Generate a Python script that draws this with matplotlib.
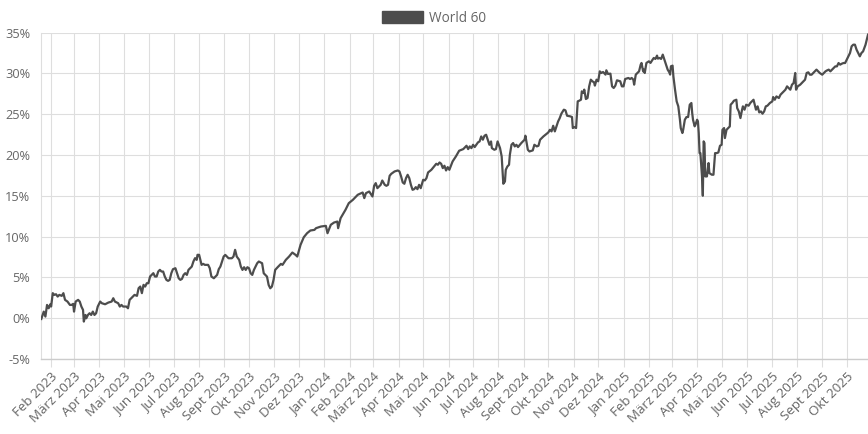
import matplotlib
matplotlib.use("Agg")
import matplotlib.pyplot as plt
import matplotlib.dates as mdates
from matplotlib.patches import Patch
from matplotlib.ticker import FuncFormatter, MultipleLocator
import pandas as pd

# Wertentwicklung "World 60" in %, Tage seit Start
start_date = "2023-01-20"
series_name = "World 60"
month_names = ["Jan", "Feb", "März", "Apr", "Mai", "Jun",
               "Jul", "Aug", "Sept", "Okt", "Nov", "Dez"]

days_2023 = [0, 3, 5, 7, 9, 11, 12, 14, 16, 18, 20, 22, 25, 27, 29, 32, 35, 37, 39, 40,
             42, 45, 47, 49, 51, 52, 54, 55, 57, 59, 61, 63, 65, 67, 69, 72, 74, 78, 82, 86,
             88, 90, 94, 96, 98, 100, 104, 106, 108, 110, 114, 117, 119, 121, 123, 125, 127,
             129, 131, 133, 135, 137, 139, 141, 143, 145, 147, 149, 151, 153, 155, 157, 159,
             161, 164, 166, 168, 170, 172, 174, 176, 178, 180, 182, 184, 186, 188, 190, 191,
             193, 195, 196, 198, 200, 204, 206, 208, 211, 213, 215, 217,
             219, 221, 223, 225, 227, 229, 233, 235, 237, 239, 242, 244, 246, 248, 250, 252,
             254, 256, 258, 260, 262, 264, 266, 270, 272, 274, 276, 278, 280, 282, 284, 286,
             289, 293, 295, 299, 303, 307, 311, 313, 317, 321, 325, 329, 334, 336, 342, 348]
vals_2023 = [-0.09, 0.81, 0.20, 1.63, 1.22, 1.71, 1.43, 3.07, 2.86, 2.94, 2.65, 2.86, 2.74,
             3.07, 2.25, 2.04, 1.63, 1.63, 1.76, 0.81, 2.04, 2.25, 2.04, 1.43, 1.02, -0.41,
             0.40, -0.01, 0.40, 0.61, 0.40, 0.81, 0.40, 0.61, 1.43, 2.04, 1.84, 1.71, 1.92,
             2.04, 2.45, 2.04, 1.84, 1.43, 1.63, 1.43, 1.43, 1.22, 2.25, 2.45, 2.86, 2.74,
             3.68, 3.88, 3.07, 4.09, 3.88, 4.29, 4.29, 5.11, 5.31, 5.52, 5.11, 5.11, 5.72,
             5.93, 5.72, 5.72, 5.11, 4.70, 4.58, 4.70, 5.52, 6.01, 6.13, 5.52, 4.90, 4.70,
             4.82, 5.31, 5.52, 5.31, 5.93, 6.13, 6.33, 6.95, 7.36, 7.15, 7.77, 7.77, 6.95,
             6.54, 6.66, 6.54, 6.54, 6.13, 5.11, 4.90, 5.11, 5.31, 6.01,
             6.33, 6.95, 7.56, 7.76, 7.56, 7.35, 7.35, 7.56, 8.38, 7.56, 7.15, 6.33, 5.92,
             6.25, 5.92, 6.25, 6.13, 5.51, 5.31, 5.92, 6.33, 6.74, 6.95, 6.74, 5.51, 5.31,
             5.10, 4.08, 3.67, 3.88, 4.70, 5.92, 6.25, 6.66, 6.54, 7.15, 7.56, 8.05, 7.76,
             7.56, 8.99, 9.93, 10.42, 10.75, 10.83, 11.04, 11.24, 11.32]

days_2024 = [350, 354, 358, 362, 363, 366, 372, 376, 381, 387, 393, 395, 397, 401, 405, 407,
             409, 411, 415, 417, 420, 422, 424, 426, 428, 432, 436, 438, 440, 442, 444, 446,
             448, 450, 452, 454, 456, 458, 460, 462, 464, 467, 469, 471, 473, 477, 481, 483,
             485, 487, 489, 491, 493, 495, 497, 499, 501, 503, 507, 511, 516, 520, 522, 524,
             526, 528, 530, 534, 536, 538, 540, 542, 544, 546, 548, 550, 551, 554, 556, 558,
             561, 563, 564, 565, 567, 568, 570, 572, 573, 575, 577, 579, 581, 583, 587, 591,
             592, 594, 595, 597, 601, 603, 606, 608, 610, 614, 618, 620, 622, 624, 626, 628,
             630, 632, 634, 636, 639, 641, 643, 647, 649, 650, 652, 654, 656, 658, 660, 661,
             663, 664, 666, 668, 670, 672, 674, 676, 677, 679, 681, 683, 685, 687, 690, 691,
             693, 696, 698, 700, 702, 704, 708, 710]
vals_2024 = [10.42, 11.45, 11.73, 11.85, 11.04, 12.26, 13.29, 14.10, 14.51, 15.13, 15.41,
             14.72, 15.33, 15.53, 14.92, 16.23, 16.56, 15.94, 16.35, 16.88, 16.35, 16.23,
             16.35, 17.46, 17.70, 17.99, 18.11, 17.99, 17.38, 16.64, 16.48, 17.17, 17.58,
             17.17, 16.35, 15.74, 15.82, 16.07, 15.82, 16.35, 15.94, 16.97, 16.89, 17.17,
             17.87, 18.19, 18.69, 18.93, 18.81, 19.09, 18.93, 18.40, 18.69, 18.11, 18.52,
             18.19, 18.69, 19.22, 19.83, 20.53, 20.73, 21.14, 20.73, 21.06, 20.85, 21.26,
             20.98, 21.55, 21.67, 22.28, 21.88, 22.37, 22.49, 21.88, 21.26, 21.67, 20.85,
             20.65, 20.73, 21.67, 20.85, 19.83, 18.19, 16.48, 16.76, 18.19, 18.60, 18.81,
             20.03, 21.26, 21.47, 21.06, 21.26, 20.98, 21.47, 21.88, 22.37, 21.26, 20.65,
             20.44, 20.57, 21.26, 21.06, 21.14, 21.88, 22.28, 22.61, 22.77, 23.10, 22.90,
             23.59, 22.90, 23.51, 24.12, 24.53, 25.07, 25.56, 25.48, 24.82, 24.74, 24.66,
             23.31, 23.43, 23.31, 26.58, 26.67, 26.79, 27.81, 27.61, 28.02, 26.87, 26.99,
             28.42, 29.24, 29.04, 28.91, 28.51, 29.24, 29.04, 30.26, 30.06, 30.18, 29.86,
             30.39, 29.94, 29.98, 28.42, 28.22, 28.51, 29.16, 29.04, 28.42]

days_2025 = [712, 714, 718, 720, 722, 724, 725, 727, 729, 731, 733, 734, 736, 737, 738, 740,
             743, 745, 747, 749, 751, 753, 754, 756, 758, 760, 762, 764, 766, 768, 769, 770,
             772, 773, 775, 777, 779, 781, 782, 784, 785, 787, 789, 791, 793, 795, 796, 797,
             799, 800, 802, 803, 804, 805, 806, 808, 809, 810, 811, 812, 814, 816, 817, 820,
             822, 824, 826, 828, 830, 832, 833, 835, 836, 838, 840, 842, 843, 845, 847, 850,
             851, 853, 855, 857, 858, 860, 862, 865, 867, 869, 871, 872, 874, 876, 878, 880,
             882, 884, 886, 888, 891, 894, 895, 897, 899, 902, 904, 906, 908, 910, 912, 914,
             916, 918, 920, 922, 923, 925, 928, 930, 934, 936, 938, 940, 942, 944, 946, 948,
             950, 952, 955, 957, 959, 961, 963, 965, 967, 969, 971, 973, 975, 977, 979, 981,
             983, 985, 987, 989, 991, 993, 995, 997, 999, 1001, 1003, 1005, 1008, 1011]
vals_2025 = [28.42, 29.32, 29.45, 29.32, 29.45, 29.24, 28.63, 29.86, 30.06, 30.26, 31.08,
             31.29, 30.26, 30.47, 30.06, 31.29, 31.49, 31.29, 31.61, 31.90, 31.78, 32.19,
             31.82, 31.90, 31.78, 32.31, 31.70, 31.08, 30.47, 30.14, 29.86, 30.88, 30.96,
             29.65, 28.02, 26.58, 25.97, 24.33, 23.31, 22.70, 23.11, 24.33, 24.66, 24.66,
             26.17, 26.38, 25.15, 24.33, 23.52, 23.72, 24.33, 24.13, 22.70, 20.24, 20.24,
             17.38, 15.01, 21.68, 21.47, 17.38, 17.38, 19.02, 17.79, 17.59, 17.59, 20.24,
             20.24, 20.32, 21.14, 21.26, 23.10, 23.31, 22.08, 23.10, 23.31, 23.51, 26.17,
             26.38, 26.66, 26.78, 25.76, 25.35, 24.53, 25.56, 25.97, 25.56, 26.17, 26.05,
             26.38, 26.58, 26.78, 26.38, 25.56, 25.97, 25.23, 25.35, 25.07, 25.35, 25.97,
             26.05, 26.38, 26.58, 27.11, 26.78, 27.19, 26.99, 27.40, 27.60, 27.81, 28.01,
             28.42, 28.22, 28.01, 28.62, 28.83, 30.06, 28.01, 28.42, 28.62, 28.83, 29.24,
             30.06, 30.14, 29.85, 29.85, 30.06, 30.26, 30.47, 30.26, 30.06, 29.85, 30.06,
             30.26, 30.38, 30.47, 30.26, 30.47, 30.67, 30.87, 30.87, 31.28, 31.08, 31.20,
             31.28, 31.28, 31.69, 32.10, 32.51, 33.33, 33.53, 33.53, 32.92, 32.51, 32.10,
             32.51, 32.71, 33.53, 34.76]

plt.rcParams['font.family'] = ['Open Sans', 'DejaVu Sans']

days = days_2023 + days_2024 + days_2025
values = vals_2023 + vals_2024 + vals_2025
dates = pd.Timestamp(start_date) + pd.to_timedelta(days, unit="D")

text_col = "#666666"
grid_col = "#dedede"
line_col = "#4d4d4d"

fig = plt.figure(figsize=(8.68, 4.34), dpi=100)
ax = fig.add_axes([0.0476, 0.1728, 0.9524, 0.7519])

ax.plot(dates, values, color=line_col, lw=1.6, solid_joinstyle="round", zorder=3)

ax.set_ylim(-5, 35)
ax.set_xlim(dates[0], dates[-1])
ax.yaxis.set_major_locator(MultipleLocator(5))
ax.yaxis.set_major_formatter(FuncFormatter(lambda v, p: f"{int(round(v))}%"))
ax.xaxis.set_major_locator(mdates.MonthLocator())
ax.xaxis.set_major_formatter(FuncFormatter(
    lambda v, p: f"{month_names[mdates.num2date(v).month - 1]} {mdates.num2date(v).year}"))

ax.grid(True, color=grid_col, lw=0.8)
ax.set_axisbelow(True)
for side in ["top", "right"]:
    ax.spines[side].set_visible(False)
ax.spines["left"].set_color(grid_col)
ax.spines["left"].set_linewidth(0.8)
ax.spines["bottom"].set_color("#cccccc")
ax.spines["bottom"].set_linewidth(1.0)

ax.tick_params(axis="y", length=0, pad=8, labelsize=9.2, labelcolor=text_col)
ax.tick_params(axis="x", length=5.5, width=0.8, color=grid_col, pad=2.5,
               labelsize=9.6, labelcolor=text_col)
for lab in ax.get_xticklabels():
    lab.set_rotation(45)
    lab.set_ha("right")
    lab.set_va("top")
    lab.set_rotation_mode("anchor")

fig.legend(handles=[Patch(facecolor=line_col, edgecolor=line_col, label=series_name)],
           loc="upper center", bbox_to_anchor=(0.5, 1.0), frameon=False,
           fontsize=9.8, labelcolor=text_col, handlelength=3.0, handleheight=0.95,
           handletextpad=0.45, borderaxespad=0.4)

fig.savefig("out.png", dpi=100)
